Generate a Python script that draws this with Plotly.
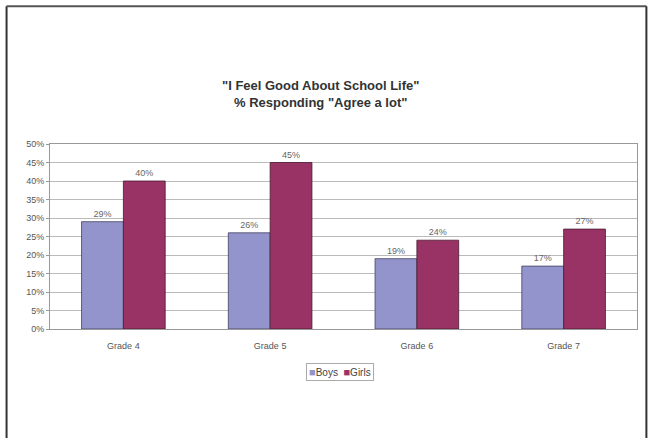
import plotly.graph_objects as go

categories = ["Grade 4", "Grade 5", "Grade 6", "Grade 7"]
boys = [0.29, 0.26, 0.19, 0.17]
girls = [0.40, 0.45, 0.24, 0.27]
title_lines = ["\"I Feel Good About School Life\"", "% Responding \"Agree a lot\""]
boys_color = "#9494CC"
girls_color = "#993366"


def labels(vals):
    return [f"{v*100:.0f}%" for v in vals]


fig = go.Figure()
fig.add_bar(x=categories, y=boys, name="Boys", marker=dict(color=boys_color, line=dict(color="#404060", width=0.8)),
            text=labels(boys), textposition="outside",
            textfont=dict(size=9, color="#666666"), cliponaxis=False)
fig.add_bar(x=categories, y=girls, name="Girls", marker=dict(color=girls_color, line=dict(color="#4a1a30", width=0.8)),
            text=labels(girls), textposition="outside",
            textfont=dict(size=9, color="#666666"), cliponaxis=False)

legend_text = (f"<span style='color:{boys_color};font-size:11px'>■</span>Boys  "
               f"<span style='color:{girls_color};font-size:11px'>■</span>Girls")

fig.update_layout(
    width=649, height=438,
    margin=dict(l=50, r=12, t=144, b=109),
    paper_bgcolor="white", plot_bgcolor="white",
    font=dict(family="Liberation Sans, Arial, sans-serif", size=9, color="#555555"),
    barmode="group", bargap=0.43, bargroupgap=0,
    showlegend=False,
    xaxis=dict(showline=True, linecolor="#999999", linewidth=1, mirror=True, ticks="",
               ticklabelstandoff=8, tickfont=dict(size=9, color="#555555")),
    yaxis=dict(range=[0, 0.5], dtick=0.05, tickformat=".0%", showgrid=True, gridcolor="#BBBBBB",
               gridwidth=1, showline=True, linecolor="#999999", linewidth=1, mirror=True,
               ticks="outside", ticklen=3, tickcolor="#999999", tickfont=dict(size=9, color="#555555"),
               zeroline=False),
    annotations=[
        dict(text="<b>" + title_lines[0] + "<br>" + title_lines[1] + "</b>",
             xref="paper", yref="paper", x=0.46, y=1.27, xanchor="center", yanchor="middle",
             showarrow=False, font=dict(size=13, color="#333333",
                                        family="Liberation Sans, Arial, sans-serif")),
        dict(text=legend_text, xref="paper", yref="paper", x=0.494, y=-0.235,
             xanchor="center", yanchor="middle", showarrow=False,
             font=dict(size=10, color="#444444"), bordercolor="#AAAAAA", borderwidth=1,
             borderpad=2, bgcolor="white"),
    ],
    shapes=[
        dict(type="line", xref="paper", yref="paper", x0=-0.074, x1=-0.074, y0=-1.0, y1=1.745,
             line=dict(color="#333333", width=2)),
        dict(type="line", xref="paper", yref="paper", x0=-0.074, x1=1.016, y0=1.745, y1=1.745,
             line=dict(color="#555555", width=2)),
        dict(type="line", xref="paper", yref="paper", x0=1.016, x1=1.016, y0=-1.0, y1=1.745,
             line=dict(color="#333333", width=2)),
    ],
)

fig.write_html("out.html", config={"displayModeBar": False},
               post_script="document.body.style.margin='0';")
